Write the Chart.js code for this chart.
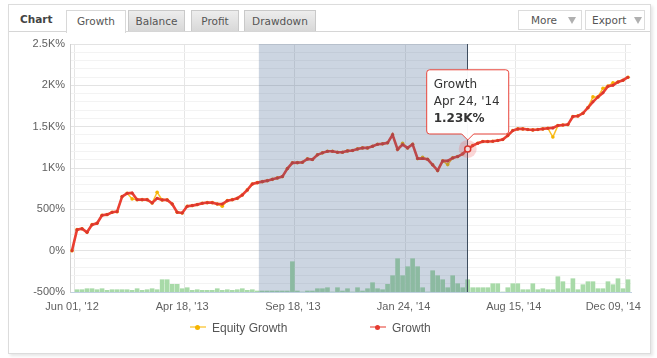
<!DOCTYPE html>
<html>
<head>
<meta charset="utf-8">
<script src="https://cdn.jsdelivr.net/npm/chart.js@4.4.1/dist/chart.umd.min.js"></script>
<style>
  html,body{margin:0;padding:0;background:#fff;}
  body{width:657px;height:358px;position:relative;overflow:hidden;font-family:"DejaVu Sans",sans-serif;}
  #panel{position:absolute;left:8px;top:4px;width:643px;height:350px;box-sizing:border-box;border:1px solid #dcdcdc;background:#fff;box-shadow:2px 2px 3px rgba(0,0,0,0.10);}
  #hdrline{position:absolute;left:9px;top:31px;width:641px;height:1px;background:#d6d6d6;}
  .lbl{position:absolute;left:20px;top:13px;font-weight:bold;font-size:10.5px;color:#444;}
  .tab{position:absolute;top:10px;height:21px;box-sizing:border-box;border:1px solid #c9c9c9;border-bottom:none;background:linear-gradient(#ededed,#d8d8d8);font-size:10.5px;color:#555;text-align:center;line-height:20px;}
  .tab.on{background:#fff;border-color:#d8d8d8;height:23px;}
  .btn{position:absolute;top:10px;height:20px;box-sizing:border-box;border:1px solid #dcdcdc;background:#fff;font-size:10.5px;color:#555;line-height:18px;}
  .btn span.tri{position:absolute;top:6px;width:0;height:0;border-left:4px solid transparent;border-right:4px solid transparent;border-top:7px solid #b0b0b0;}
  #c{position:absolute;left:0;top:0;}
  .leg{position:absolute;top:320px;font-family:"Liberation Sans",Arial,sans-serif;font-size:12px;color:#555;line-height:16px;}
  .legsym{position:absolute;top:326px;height:2px;}
  .legdot{position:absolute;width:5px;height:5px;border-radius:50%;top:325px;}
</style>
</head>
<body>
<div id="panel"></div>
<div id="hdrline"></div>
<div class="lbl">Chart</div>
<div class="tab on" style="left:66px;width:60px;">Growth</div>
<div class="tab" style="left:128px;width:57px;">Balance</div>
<div class="tab" style="left:191px;width:48px;">Profit</div>
<div class="tab" style="left:244px;width:72px;">Drawdown</div>
<div class="btn" style="left:518px;width:64px;"><span style="position:absolute;left:12px;">More</span><span class="tri" style="left:49px;"></span></div>
<div class="btn" style="left:585px;width:60px;"><span style="position:absolute;left:6px;">Export</span><span class="tri" style="left:48px;"></span></div>
<canvas id="c" width="657" height="358"></canvas>
<div class="legsym" style="left:190px;width:16px;background:#fcd97a;"></div>
<div class="legdot" style="left:195px;background:#f5b400;"></div>
<div class="leg" style="left:212px;">Equity Growth</div>
<div class="legsym" style="left:370px;width:16px;background:#f29b95;"></div>
<div class="legdot" style="left:375px;background:#e53a30;"></div>
<div class="leg" style="left:392px;">Growth</div>
<script>
// ---- data ----
const tickLabels = ["Jun 01, '12", "Apr 18, '13", "Sep 18, '13", "Jan 24, '14", "Aug 15, '14", "Dec 09, '14"];
const tickIdx = [0.4, 22.4, 44.5, 66.6, 88.6, 110.6];

const growth = [0,254,266,222,315,331,428,436,464,472,
  654,694,698,617,617,617,577,633,614,614,
  565,464,456,537,545,557,573,581,581,565,
  565,605,617,633,674,735,807,823,835,847,
  863,880,896,993,1062,1065,1069,1110,1102,1159,
  1183,1202,1202,1190,1190,1207,1211,1231,1243,1243,
  1263,1287,1292,1304,1401,1226,1283,1243,1287,1114,
  1114,1105,1038,969,1086,1086,1122,1138,1171,1230,
  1271,1299,1320,1320,1324,1332,1344,1392,1453,1473,
  1473,1465,1461,1465,1473,1481,1485,1513,1521,1525,
  1622,1630,1662,1730,1800,1860,1910,1990,2000,2040,
  2062,2098];

const equity = [0,254,266,222,315,331,428,436,464,472,
  654,694,626,617,617,617,577,706,614,614,
  565,464,456,537,545,557,573,581,581,565,
  537,605,617,633,674,735,807,823,835,847,
  863,880,896,993,1062,1065,1069,1110,1102,1159,
  1183,1202,1202,1190,1190,1207,1211,1231,1243,1243,
  1263,1287,1292,1304,1401,1226,1299,1243,1287,1114,
  1130,1105,1038,969,1086,1041,1122,1138,1171,1230,
  1271,1299,1320,1320,1324,1332,1344,1392,1453,1473,
  1473,1465,1461,1465,1473,1481,1375,1513,1521,1525,
  1622,1630,1662,1730,1860,1860,1965,1990,2030,2040,
  2062,2098];

const activity = [null,2.3,2.3,3.3,3.3,2.3,3.3,1.7,2.3,2.3,
  2.3,2.3,1.7,3.3,1.7,2.3,3.3,2.3,12.3,12.3,
  7.7,7.7,3.3,4.3,1.7,2.3,1.7,1.7,1.7,3.3,
  1.7,2.3,1.7,2.3,3.3,1.7,2.3,1,1,1,
  1,1,1,1,30.3,1,0,1,1,3.3,
  3.3,4.3,0,4.3,1,3.3,0,4.3,1,3.3,
  9.3,3.3,2.3,7.7,16.3,33.3,16.3,25.3,33.3,25.3,
  4.3,0,21.3,16.3,12.3,4.3,16.3,8.3,4.3,12.3,
  4.3,4.3,4.3,4.3,8.3,8.3,0,4.3,8.3,8.3,
  2.3,2.3,8.3,2.3,3.3,2.3,2.3,15.3,10.3,3.3,
  13.3,2.3,7.3,10.3,10.3,3.3,3.3,10.3,7.3,13.3,
  3.3,12.3];

const bandFrom = 37.3, bandTo = 79;
const hoverIdx = 79;
const hoverDate = "Apr 24, '14";

// ---- helpers ----
function fmtK(v){
  if (Math.abs(v) >= 1000) return (v/1000) + 'K%';
  return v + '%';
}
function fmtTip(v){
  if (Math.abs(v) >= 1000) return (v/1000).toFixed(2) + 'K%';
  return v + '%';
}
const pts = arr => arr.map((v,i)=>({x:i,y:v}));
// last label is pushed inward so it stays inside the panel (edge justification)
const justifyPad = '\u00a0'.repeat(7);

const overlay = {
  id:'overlay',
  afterDatasetsDraw(chart){
    const {ctx, chartArea:a, scales:{x,y}} = chart;
    const x0 = x.getPixelForValue(bandFrom), x1 = x.getPixelForValue(bandTo);
    ctx.save();
    ctx.fillStyle = 'rgba(65,100,145,0.27)';
    ctx.fillRect(x0, a.top, x1-x0, a.bottom-a.top);
    const px = x.getPixelForValue(hoverIdx), py = y.getPixelForValue(growth[hoverIdx]);
    ctx.strokeStyle = '#3e4d5f'; ctx.lineWidth = 1;
    ctx.beginPath(); ctx.moveTo(Math.round(px)-0.5, a.top); ctx.lineTo(Math.round(px)-0.5, a.bottom); ctx.stroke();
    ctx.fillStyle = 'rgba(240,90,90,0.25)';
    ctx.beginPath(); ctx.arc(px, py, 9, 0, Math.PI*2); ctx.fill();
    ctx.fillStyle = '#f6dada'; ctx.strokeStyle = '#d8362d'; ctx.lineWidth = 1.5;
    ctx.beginPath(); ctx.arc(px, py, 3, 0, Math.PI*2); ctx.fill(); ctx.stroke();
    ctx.restore();
  }
};

const axisFont = {family:'"Liberation Sans", Arial, sans-serif', size:11};

const chart = new Chart(document.getElementById('c'), {
  type:'line',
  data:{
    datasets:[
      {label:'Growth', data:pts(growth), order:0, borderColor:'#ea3f33', borderWidth:2.6,
       pointRadius:1.5, pointBackgroundColor:'#d9372d', pointBorderWidth:0, tension:0},
      {label:'Equity Growth', data:pts(equity), order:1, borderColor:'#fbbf24', borderWidth:1.5,
       pointRadius:1.8, pointBackgroundColor:'#f5b400', pointBorderWidth:0, tension:0},
      {type:'bar', label:'Activity', data:pts(activity), order:2, yAxisID:'y2',
       backgroundColor:'#a8daa8', barThickness:4, borderWidth:0}
    ]
  },
  options:{
    responsive:false, animation:false, devicePixelRatio:1, events:[],
    layout:{padding:{top:44, right:26, bottom:0, left:0}},
    plugins:{
      legend:{display:false},
      tooltip:{
        enabled:true,
        filter: it => it.datasetIndex === 0,
        backgroundColor:'rgba(255,255,255,0.96)',
        borderColor:'#e8453b', borderWidth:1,
        titleColor:'#333', bodyColor:'#333',
        titleFont:{family:'"DejaVu Sans", sans-serif', size:12, weight:'normal'},
        bodyFont:{family:'"DejaVu Sans", sans-serif', size:12, weight:'bold'},
        titleSpacing:2, titleMarginBottom:3,
        padding:{left:7, right:9, top:8, bottom:8},
        cornerRadius:3, caretSize:6, caretPadding:9,
        displayColors:false, yAlign:'bottom', xAlign:'center',
        callbacks:{
          title: () => ['Growth', hoverDate],
          label: c => fmtTip(c.parsed.y)
        }
      }
    },
    scales:{
      x:{type:'linear', min:-0.4, max:111.6, offset:false,
        afterBuildTicks: s => { s.ticks = tickIdx.map(v=>({value:v})); },
        afterFit: s => { s.height = 66; s.paddingLeft = 0; s.paddingRight = 0; },
        ticks:{autoSkip:false, maxRotation:0, padding:8, labelOffset:-2, color:'#606060', font:axisFont,
          callback:(v,i)=> i === tickLabels.length-1 ? tickLabels[i] + justifyPad : tickLabels[i]},
        grid:{color:'#e6e6e6', drawTicks:false, offset:false},
        border:{display:true, color:'#c0d0e0'}
      },
      y:{type:'linear', min:-500, max:2500,
        afterFit: s => { s.width = 70; },
        ticks:{stepSize:100, autoSkip:false, padding:5, color:'#606060', font:axisFont,
          callback:v => (v % 500 === 0 ? fmtK(v) : '')},
        grid:{drawTicks:false, color:c => (c.tick && c.tick.value % 500 === 0 ? '#e3e3e3' : '#f3f3f3')},
        border:{display:true, color:'#d0d0d0'}
      },
      y2:{type:'linear', display:false, min:0, max:248}
    }
  },
  plugins:[overlay]
});
chart.tooltip.setActiveElements([{datasetIndex:0, index:hoverIdx}], {x:0, y:0});
chart.update();
</script>
</body>
</html>
